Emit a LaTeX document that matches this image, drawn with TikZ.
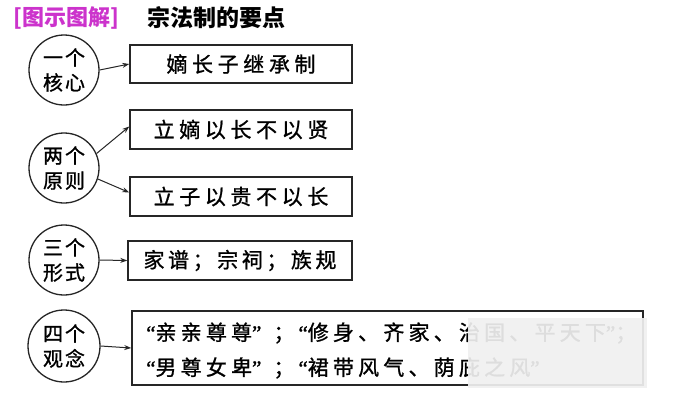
\documentclass[tikz,border=0pt]{standalone}
\usepackage{fontspec}
\usetikzlibrary{arrows.meta}
\newfontfamily\cjk[LetterSpace=10,FakeBold=1]{Noto Sans CJK SC}
\newfontfamily\cjkbold{Noto Sans CJK SC}
\newfontfamily\cjkwide[LetterSpace=22,FakeBold=1]{Noto Sans CJK SC}
\newfontfamily\cjkmid[LetterSpace=17,FakeBold=1]{Noto Sans CJK SC}
\newfontfamily\cjkfive[LetterSpace=20,FakeBold=1]{Noto Sans CJK SC}
\newfontfamily\qfont[LetterSpace=8,FakeBold=1]{Liberation Serif}
\newcommand\oq{{\qfont “}}
\newcommand\cq{{\qfont ”}}
\newcommand\semi{\hspace{12pt}；\hspace{4pt}}
\definecolor{titlemag}{HTML}{CC33CC}
\tikzset{
  circ/.style={draw=black!85, line width=1.3pt, circle, minimum size=70pt, inner sep=0pt, align=center, font=\cjk\fontsize{20}{25}\selectfont},
  boxx/.style={draw=black!85, line width=1.5pt, rectangle, inner sep=0pt},
  conn/.style={draw=black!85, line width=1pt, -{Stealth[length=7pt,width=5pt]}},
  boxtext/.style={font=\cjkwide\fontsize{21}{24}\selectfont},
}
\begin{document}
\begin{tikzpicture}[x=1pt,y=-1pt]
\fill[white] (0,0) rectangle (700,400);
\useasboundingbox (0,0) rectangle (700,400);
% title
\node[anchor=west, text=titlemag, font=\cjkbold\bfseries\fontsize{22}{24}\selectfont, inner sep=0pt] (t1) at (13,18) {[图示图解]};
\node[anchor=west, font=\cjkbold\bfseries\fontsize{23}{25}\selectfont, inner sep=0pt] (t2) at (147,18) {宗法制的要点};
% circles
\node[circ] (c1) at (64,70) {一个\\核心};
\node[circ] (c2) at (64,168) {两个\\原则};
\node[circ] (c3) at (64,260) {三个\\形式};
\node[circ, minimum size=72pt] (c4) at (64,346) {四个\\观念};
% boxes
\node[boxx, boxtext, minimum width=222pt, minimum height=38pt] (b1) at (241,64) {嫡长子继承制};
\node[boxx, boxtext, minimum width=222pt, minimum height=39pt] (b2) at (241,129.5) {立嫡以长不以贤};
\node[boxx, boxtext, minimum width=222pt, minimum height=39pt] (b3) at (241,196.5) {立子以贵不以长};
\node[boxx, minimum width=224pt, minimum height=39pt, font=\cjkmid\fontsize{21}{24}\selectfont] (b4) at (240,260.5) {家谱；宗祠；族规};
\node[boxx, minimum width=511pt, minimum height=74pt] (b5) at (387.5,348) {};
\node[anchor=west, inner sep=0pt, font=\cjkfive\fontsize{21}{24}\selectfont] (l1) at (146,333) {\oq 亲亲尊尊\cq\semi\oq 修身、齐家、治国、平天下\cq；};
\node[anchor=west, inner sep=0pt, font=\cjkfive\fontsize{21}{24}\selectfont] (l2) at (146,368) {\oq 男尊女卑\cq\semi\oq 裙带风气、荫庇之风\cq};
% blurred patch
\fill[black!6, opacity=0.92] (468,318) rectangle (647,388);
% connectors
\draw[conn] (c1.east) -- (b1.west);
\draw[conn] (c2.24) -- ([yshift=3pt]b2.west);
\draw[conn] (c2.-18) -- ([yshift=4pt]b3.west);
\draw[conn] (c3.east) -- (b4.west);
\draw[conn] (c4.east) -- (b5.west);
\end{tikzpicture}
\end{document}
